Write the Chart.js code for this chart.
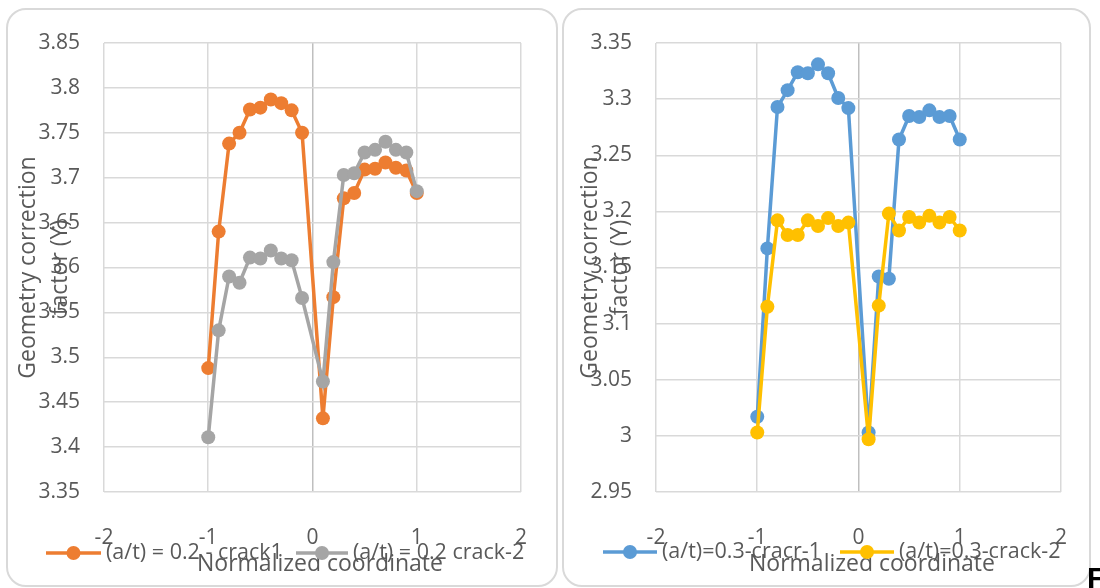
<!DOCTYPE html>
<html>
<head>
<meta charset="utf-8">
<script src="https://cdn.jsdelivr.net/npm/chart.js@4.4.0/dist/chart.umd.min.js"></script>
<style>
  html, body { margin: 0; padding: 0; background: #fff; }
  body { width: 1100px; height: 588px; position: relative; overflow: hidden; }
  .panel { position: absolute; border: 2px solid #d9d9d9; border-radius: 20px; box-sizing: border-box; }
  #p1 { left: 6px; top: 8px; width: 552px; height: 579px; }
  #p2 { left: 562px; top: 8px; width: 529px; height: 579px; }
  canvas { position: absolute; top: 0; }
  #fig { position: absolute; left: 1087px; top: 563px; font: bold 30px "Liberation Sans"; line-height: 30px; color: #000; }
</style>
</head>
<body>
<div class="panel" id="p1"></div>
<div class="panel" id="p2"></div>
<canvas id="chart1" width="560" height="588" style="left:0px"></canvas>
<canvas id="chart2" width="540" height="588" style="left:560px"></canvas>
<div id="fig">F</div>
<script>
// normalized coordinate of each point
const coords = [-1, -0.9, -0.8, -0.7, -0.6, -0.5, -0.4, -0.3, -0.2, -0.1,
                0.1, 0.2, 0.3, 0.4, 0.5, 0.6, 0.7, 0.8, 0.9, 1];

// a/t = 0.2
const crack1_02 = [3.488, 3.640, 3.738, 3.750, 3.776, 3.778, 3.787, 3.783, 3.775, 3.750,
                   3.432, 3.567, 3.677, 3.683, 3.709, 3.710, 3.717, 3.711, 3.708, 3.683];
const crack2_02 = [3.411, 3.530, 3.590, 3.583, 3.611, 3.610, 3.619, 3.610, 3.608, 3.566,
                   3.473, 3.606, 3.703, 3.705, 3.728, 3.731, 3.740, 3.731, 3.728, 3.685];

// a/t = 0.3
const crack1_03 = [3.017, 3.167, 3.293, 3.308, 3.324, 3.323, 3.331, 3.323, 3.301, 3.292,
                   3.003, 3.142, 3.140, 3.264, 3.285, 3.284, 3.290, 3.284, 3.285, 3.264];
const crack2_03 = [3.003, 3.115, 3.192, 3.179, 3.179, 3.192, 3.187, 3.194, 3.187, 3.190,
                   2.997, 3.116, 3.198, 3.183, 3.195, 3.190, 3.196, 3.190, 3.195, 3.183];

const labels02 = ['(a/t) = 0.2 - crack1', '(a/t) = 0.2 crack-2'];
const labels03 = ['(a/t)=0.3-cracr-1', '(a/t)=0.3-crack-2'];
const xTitle = 'Normalized coordinate';
const yTitle = ['Geometry correction', 'factor (Y)'];

const textColor = '#595959';
const font = '"Open Sans"';

// excel style titles + legend, drawn over the chart like in the original
const excelText = {
    id: 'excelText',
    afterDraw(chart, args, opts) {
        const ctx = chart.ctx;
        const area = chart.chartArea;
        ctx.save();
        ctx.fillStyle = textColor;
        ctx.textAlign = 'center';
        ctx.textBaseline = 'middle';
        ctx.font = '23px ' + font;
        const cy = (area.top + area.bottom) / 2;
        yTitle.forEach((line, i) => {
            ctx.save();
            ctx.translate(opts.yTitleX[i], cy);
            ctx.rotate(-Math.PI / 2);
            ctx.fillText(line, 0, 0);
            ctx.restore();
        });
        ctx.fillText(xTitle, opts.xTitleX, opts.xTitleY);

        ctx.font = '21.5px ' + font;
        ctx.textAlign = 'left';
        chart.data.datasets.forEach((ds, i) => {
            const it = opts.legend[i];
            ctx.strokeStyle = ds.borderColor;
            ctx.lineWidth = 3.5;
            ctx.beginPath();
            ctx.moveTo(it.x0, opts.legendY);
            ctx.lineTo(it.x1, opts.legendY);
            ctx.stroke();
            ctx.fillStyle = ds.borderColor;
            ctx.beginPath();
            ctx.arc((it.x0 + it.x1) / 2, opts.legendY, 7, 0, Math.PI * 2);
            ctx.fill();
            ctx.fillStyle = textColor;
            ctx.fillText(ds.label, it.x1 + 5, opts.legendY);
        });
        ctx.restore();
    }
};

function series(label, ys, color, order) {
    return {
        label: label,
        data: coords.map((x, i) => ({ x: x, y: ys[i] })),
        showLine: true,
        borderColor: color,
        backgroundColor: color,
        borderWidth: 3.5,
        pointRadius: 7,
        pointBorderWidth: 0,
        pointBackgroundColor: color,
        order: order
    };
}

function makeChart(id, datasets, yMin, yMax, yWidth, padRight, decor) {
    return new Chart(document.getElementById(id), {
        type: 'scatter',
        data: { datasets: datasets },
        plugins: [excelText],
        options: {
            responsive: false,
            animation: false,
            devicePixelRatio: 1,
            layout: { padding: { top: 43, right: padRight, left: 0, bottom: 0 } },
            plugins: {
                legend: { display: false },
                tooltip: { enabled: false },
                excelText: decor
            },
            scales: {
                x: {
                    type: 'linear',
                    min: -2,
                    max: 2,
                    border: { display: false },
                    grid: {
                        drawTicks: false,
                        lineWidth: 1.5,
                        color: (c) => c.tick && c.tick.value === 0 ? '#bfbfbf' : '#d9d9d9'
                    },
                    ticks: {
                        stepSize: 1,
                        padding: 33,
                        color: textColor,
                        font: { family: 'Open Sans', size: 21 }
                    },
                    afterFit(s) { s.height = 96; }
                },
                y: {
                    type: 'linear',
                    min: yMin,
                    max: yMax,
                    border: { display: false },
                    grid: { drawTicks: false, lineWidth: 1.5, color: '#d9d9d9' },
                    ticks: {
                        stepSize: 0.05,
                        padding: 24,
                        color: textColor,
                        font: { family: 'Open Sans', size: 21 },
                        callback: (v) => String(Math.round(v * 100) / 100)
                    },
                    afterFit(s) { s.width = yWidth; }
                }
            }
        }
    });
}

makeChart('chart1', [
    series(labels02[0], crack1_02, '#ED7D31', 2),
    series(labels02[1], crack2_02, '#A5A5A5', 1)
], 3.35, 3.85, 104, 36, {
    yTitleX: [28, 60],
    xTitleX: 320, xTitleY: 564,
    legendY: 553,
    legend: [{ x0: 46, x1: 101 }, { x0: 296, x1: 348 }]
});

makeChart('chart2', [
    series(labels03[0], crack1_03, '#5B9BD5', 2),
    series(labels03[1], crack2_03, '#FFC000', 1)
], 2.95, 3.35, 96, 35, {
    yTitleX: [30, 60],
    xTitleX: 312, xTitleY: 564,
    legendY: 552,
    legend: [{ x0: 43, x1: 97 }, { x0: 280, x1: 334 }]
});
</script>
</body>
</html>
